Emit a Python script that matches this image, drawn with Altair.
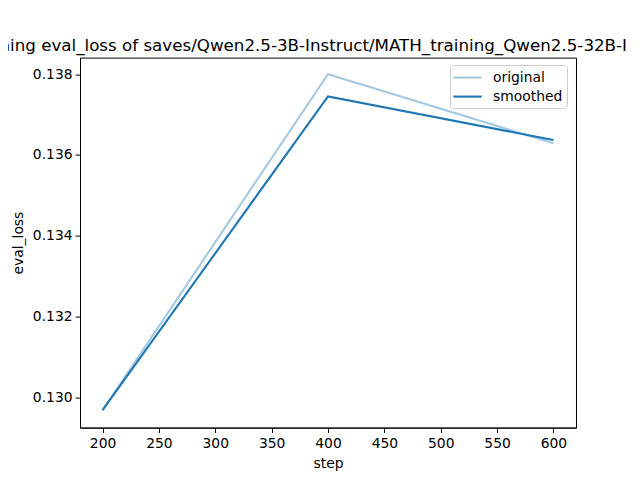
import altair as alt
import pandas as pd

steps = [200, 400, 600]
original = [0.12968, 0.13800, 0.13629]
smoothed = [0.12968, 0.13745, 0.13637]
series_names = ["original", "smoothed"]
series_colors = ["#a5c9e1", "#1f77b4"]
x_ticks = [200, 250, 300, 350, 400, 450, 500, 550, 600]
y_ticks = [0.130, 0.132, 0.134, 0.136, 0.138]
title_text = "Training eval_loss of saves/Qwen2.5-3B-Instruct/MATH_training_Qwen2.5-32B-Instruct"

rows = []
for name, vals in zip(series_names, [original, smoothed]):
    for s, v in zip(steps, vals):
        rows.append({"step": s, "eval_loss": v, "series": name})
df = pd.DataFrame(rows)

FONT = "DejaVu Sans"

chart = alt.Chart(df).mark_line(strokeWidth=2.1).encode(
    x=alt.X("step:Q", scale=alt.Scale(domain=[180, 620], nice=False, zero=False),
            axis=alt.Axis(values=x_ticks, title="step", grid=False, labelPadding=4.5, titlePadding=6)),
    y=alt.Y("eval_loss:Q", scale=alt.Scale(domain=[0.12925, 0.13841], nice=False, zero=False),
            axis=alt.Axis(values=y_ticks, format=".3f", title="eval_loss", grid=False,
                          labelPadding=3, titlePadding=7)),
    color=alt.Color("series:N", scale=alt.Scale(domain=series_names, range=series_colors),
                    legend=alt.Legend(title=None, orient="none", legendX=370, legendY=7.5,
                                      symbolType="M-2,0H2", symbolSize=200, symbolStrokeWidth=2.1,
                                      symbolOffset=5,
                                      labelFont=FONT, labelFontSize=13.9, labelColor="black",
                                      labelOffset=17, padding=4, rowPadding=3,
                                      strokeColor="#cccccc", cornerRadius=3, fillColor="white")),
    detail="series:N",
).properties(
    width=496, height=370,
    title=alt.TitleParams(title_text, anchor="start", frame="group", dx=-110, offset=3, font=FONT,
                          fontSize=16.7, fontWeight="normal", color="black"),
    autosize=alt.AutoSizeParams(type="none"),
    padding={"left": 72, "top": 49.6, "right": 50, "bottom": 43},
).configure_view(
    stroke="black", strokeWidth=1
).configure_axis(
    domainColor="black", domainWidth=1, tickColor="black", tickSize=4.9, tickWidth=1,
    labelFont=FONT, labelFontSize=13.9, labelColor="black",
    titleFont=FONT, titleFontSize=13.9, titleColor="black", titleFontWeight="normal",
)

chart.save("out.html", embed_options={"renderer": "svg", "actions": False})
